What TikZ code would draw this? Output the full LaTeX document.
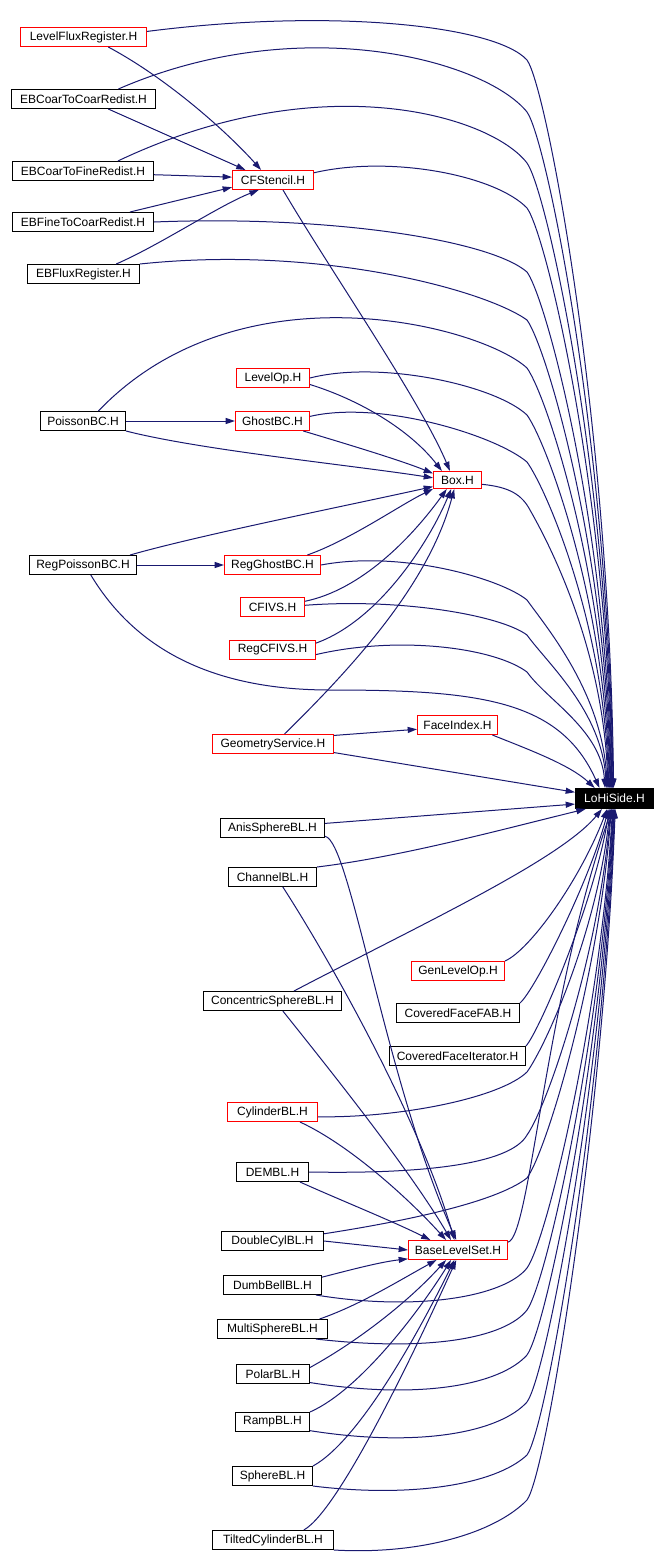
\documentclass[tikz,border=0pt]{standalone}
\usepackage{fontspec}
\setmainfont{Liberation Sans}
\usetikzlibrary{arrows.meta}
\definecolor{depblue}{HTML}{191970}

\begin{document}
\begin{tikzpicture}[x=0.75pt,y=-0.75pt,
  file/.style={draw=black,line width=0.75pt,rectangle,inner sep=0pt,minimum height=14.25pt,font=\fontsize{9}{10}\selectfont},
  redfile/.style={file,draw=red},
  dep/.style={->,draw=depblue,line width=0.75pt},
  >={Triangle[length=7pt,width=4.5pt]}]

\path[fill=white,use as bounding box] (0,0) rectangle (666,1566);

%=== left column ===
\node[redfile,minimum width=94.5pt] (lfr) at (83.5,37) {LevelFluxRegister.H};
\node[file,minimum width=108pt] (c2c) at (83.5,99) {EBCoarToCoarRedist.H};
\node[file,minimum width=105.75pt] (c2f) at (83,171) {EBCoarToFineRedist.H};
\node[file,minimum width=105.75pt] (f2c) at (83,222) {EBFineToCoarRedist.H};
\node[file,minimum width=84pt] (ebflux) at (83.5,274) {EBFluxRegister.H};
\node[file,minimum width=63.75pt] (poisson) at (83,421) {PoissonBC.H};
\node[file,minimum width=80.25pt] (rpoisson) at (83,565) {RegPoissonBC.H};

%=== middle column ===
\node[redfile,minimum width=60.75pt] (cfs) at (273,180) {CFStencil.H};
\node[redfile,minimum width=54.75pt] (levelop) at (273,378) {LevelOp.H};
\node[redfile,minimum width=55.5pt] (ghost) at (272.5,421) {GhostBC.H};
\node[redfile,minimum width=72pt] (rghost) at (272.5,565) {RegGhostBC.H};
\node[redfile,minimum width=48pt] (cfivs) at (272.5,607) {CFIVS.H};
\node[redfile,minimum width=64.5pt] (rcfivs) at (272.5,650) {RegCFIVS.H};
\node[redfile,minimum width=90.75pt] (geom) at (273,744) {GeometryService.H};
\node[file,minimum width=78pt] (anis) at (272.5,828) {AnisSphereBL.H};
\node[file,minimum width=66pt] (channel) at (272.5,877) {ChannelBL.H};
\node[file,minimum width=103.5pt] (concsph) at (272.5,1001) {ConcentricSphereBL.H};
\node[redfile,minimum width=67.5pt] (cyl) at (272.5,1112) {CylinderBL.H};
\node[file,minimum width=54pt] (dem) at (272.5,1172) {DEMBL.H};
\node[file,minimum width=76.5pt] (dcyl) at (272.5,1241) {DoubleCylBL.H};
\node[file,minimum width=73.5pt] (dumb) at (272.5,1285) {DumbBellBL.H};
\node[file,minimum width=82.5pt] (msph) at (272.5,1329) {MultiSphereBL.H};
\node[file,minimum width=54.75pt] (polar) at (273,1374) {PolarBL.H};
\node[file,minimum width=55.5pt] (ramp) at (272.5,1422) {RampBL.H};
\node[file,minimum width=60pt] (sphere) at (272.5,1476) {SphereBL.H};
\node[file,minimum width=90.75pt] (tcyl) at (273,1540) {TiltedCylinderBL.H};

%=== right column ===
\node[redfile,minimum width=36pt,minimum height=12.75pt] (box) at (457.5,480) {Box.H};
\node[redfile,minimum width=60pt] (faceidx) at (457.5,725) {FaceIndex.H};
\node[redfile,minimum width=69.75pt] (genlvl) at (458,971) {GenLevelOp.H};
\node[file,minimum width=92.25pt] (cff) at (458,1013) {CoveredFaceFAB.H};
\node[file,minimum width=102pt] (cfi) at (457.5,1056) {CoveredFaceIterator.H};
\node[redfile,minimum width=74.25pt] (bls) at (458,1250) {BaseLevelSet.H};
\node[file,fill=black,text=white,minimum width=58.5pt,minimum height=15pt] (lohi) at (614.5,798.5) {LoHiSide.H};

%=== into CFStencil ===
\draw[dep] (lfr.-22) .. controls (170,80) and (230,135) .. (cfs.140);
\draw[dep] (c2c.-22) -- (cfs.160);
\draw[dep] (c2f.-3) -- (cfs.176);
\draw[dep] (f2c.12) -- (cfs.190);
\draw[dep] (ebflux.17) .. controls (160,245) and (220,205) .. (cfs.215);

%=== into Box ===
\draw[dep] (cfs.-45) .. controls (330,270) and (420,400) .. (box.130);
\draw[dep] (levelop.-10) .. controls (360,400) and (410,430) .. (box.150);
\draw[dep] (ghost.-18) .. controls (340,442) and (400,460) .. (box.165);
\draw[dep] (poisson.south east) .. controls (200,450) and (350,465) .. (box.175);
\draw[dep] (rpoisson.12) .. controls (200,535) and (350,505) .. (box.195);
\draw[dep] (rghost.16) .. controls (350,540) and (400,505) .. (box.200);
\draw[dep] (cfivs.10) .. controls (360,590) and (410,540) .. (box.220);
\draw[dep] (rcfivs.9) .. controls (380,620) and (430,540) .. (box.235);
\draw[dep] (geom.41) .. controls (360,660) and (430,580) .. (box.250);

% straight ones
\draw[dep] (poisson.east) -- (ghost.west);
\draw[dep] (rpoisson.east) -- (rghost.west);
\draw[dep] (geom.8) -- (faceidx.186);

%=== into LoHiSide, from above (bend at x=527) ===
\foreach \src/\ax/\ay/\bx/\by/\ky/\ang in {
    lfr.5/330/8/495/25/60/95, c2c.16/300/10/485/60/112/98,
    c2f.16/320/65/490/115/163/101, cfs.10/390/155/495/175/208/104,
    f2c.east/330/215/490/240/272/107, ebflux.north east/320/245/485/290/320/110,
    poisson.33/240/263/480/325/368/113, levelop.east/380/360/495/385/415/116,
    ghost.7/380/400/495/435/462/119, rghost.east/400/550/500/578/600/125,
    cfivs.3/400/598/500/615/635/128, rcfivs.-6/400/635/495/648/672/132} {
  \pgfmathsetmacro{\dy}{0.5*(788-\ky)}
  \draw[dep] (\src) .. controls (\ax,\ay) and (\bx,\by) .. (527,\ky)
    .. controls +(20,28) and +(-4,-\dy) .. (lohi.\ang);
}
\draw[dep] (box.-10) .. controls (510,487) and (522,495) .. (530,510)
  .. controls (550,545) and (604,650) .. (lohi.122);
\draw[dep] (rpoisson.-52) .. controls (130,640) and (200,690) .. (330,690)
  .. controls (480,690) and (560,700) .. (lohi.145);
\draw[dep] (faceidx.-16) .. controls (530,750) and (570,765) .. (lohi.152);
\draw[dep] (geom.-8) -- (lohi.171);

%=== into LoHiSide, from below ===
\draw[dep] (anis.5) -- (lohi.188);
\draw[dep] (channel.north east) .. controls (400,857) and (500,830) .. (lohi.200);
\draw[dep] (concsph.25) .. controls (420,925) and (560,860) .. (lohi.220);
\draw[dep] (genlvl.north east) .. controls (530,950) and (580,880) .. (lohi.235);
\draw[dep] (cff.north east) .. controls (535,990) and (590,880) .. (lohi.240);
\draw[dep] (cfi.north east) .. controls (540,1030) and (595,900) .. (lohi.244);
\draw[dep] (bls.9) .. controls (530,1238) and (545,1000) .. (lohi.256);
\foreach \src/\ax/\ay/\bx/\by/\ky/\ang in {
    cyl.-6/400/1118/500/1098/1072/247, dem.east/420/1174/510/1165/1135/250,
    dcyl.8/400/1222/495/1203/1178/253, dumb.-13/420/1312/505/1296/1268/259,
    msph.-13/430/1352/505/1338/1310/262, polar.-13/420/1400/500/1385/1355/265,
    ramp.-13/420/1448/500/1432/1402/268, sphere.south east/410/1498/495/1485/1455/271,
    tcyl.south east/420/1555/495/1533/1500/274} {
  \pgfmathsetmacro{\dy}{0.45*(\ky-808)}
  \draw[dep] (\src) .. controls (\ax,\ay) and (\bx,\by) .. (527,\ky)
    .. controls +(20,-28) and +(-12,\dy) .. (lohi.\ang);
}

%=== into BaseLevelSet ===
\draw[dep] (anis.-9) .. controls (350,840) and (385,1080) .. (bls.100);
\draw[dep] (channel.-44) .. controls (330,960) and (420,1120) .. (bls.110);
\draw[dep] (concsph.-44) .. controls (330,1070) and (410,1170) .. (bls.125);
\draw[dep] (cyl.-20) .. controls (350,1145) and (410,1200) .. (bls.140);
\draw[dep] (dem.-20) .. controls (340,1200) and (390,1220) .. (bls.160);
\draw[dep] (dcyl.east) -- (bls.west);
\draw[dep] (dumb.9) .. controls (350,1270) and (380,1262) .. (bls.190);
\draw[dep] (msph.12) .. controls (360,1305) and (400,1280) .. (bls.205);
\draw[dep] (polar.10) .. controls (360,1340) and (410,1300) .. (bls.220);
\draw[dep] (ramp.north east) .. controls (360,1390) and (420,1310) .. (bls.235);
\draw[dep] (sphere.north east) .. controls (360,1440) and (420,1330) .. (bls.250);
\draw[dep] (tcyl.18) .. controls (340,1510) and (420,1340) .. (bls.260);

\end{tikzpicture}
\end{document}
